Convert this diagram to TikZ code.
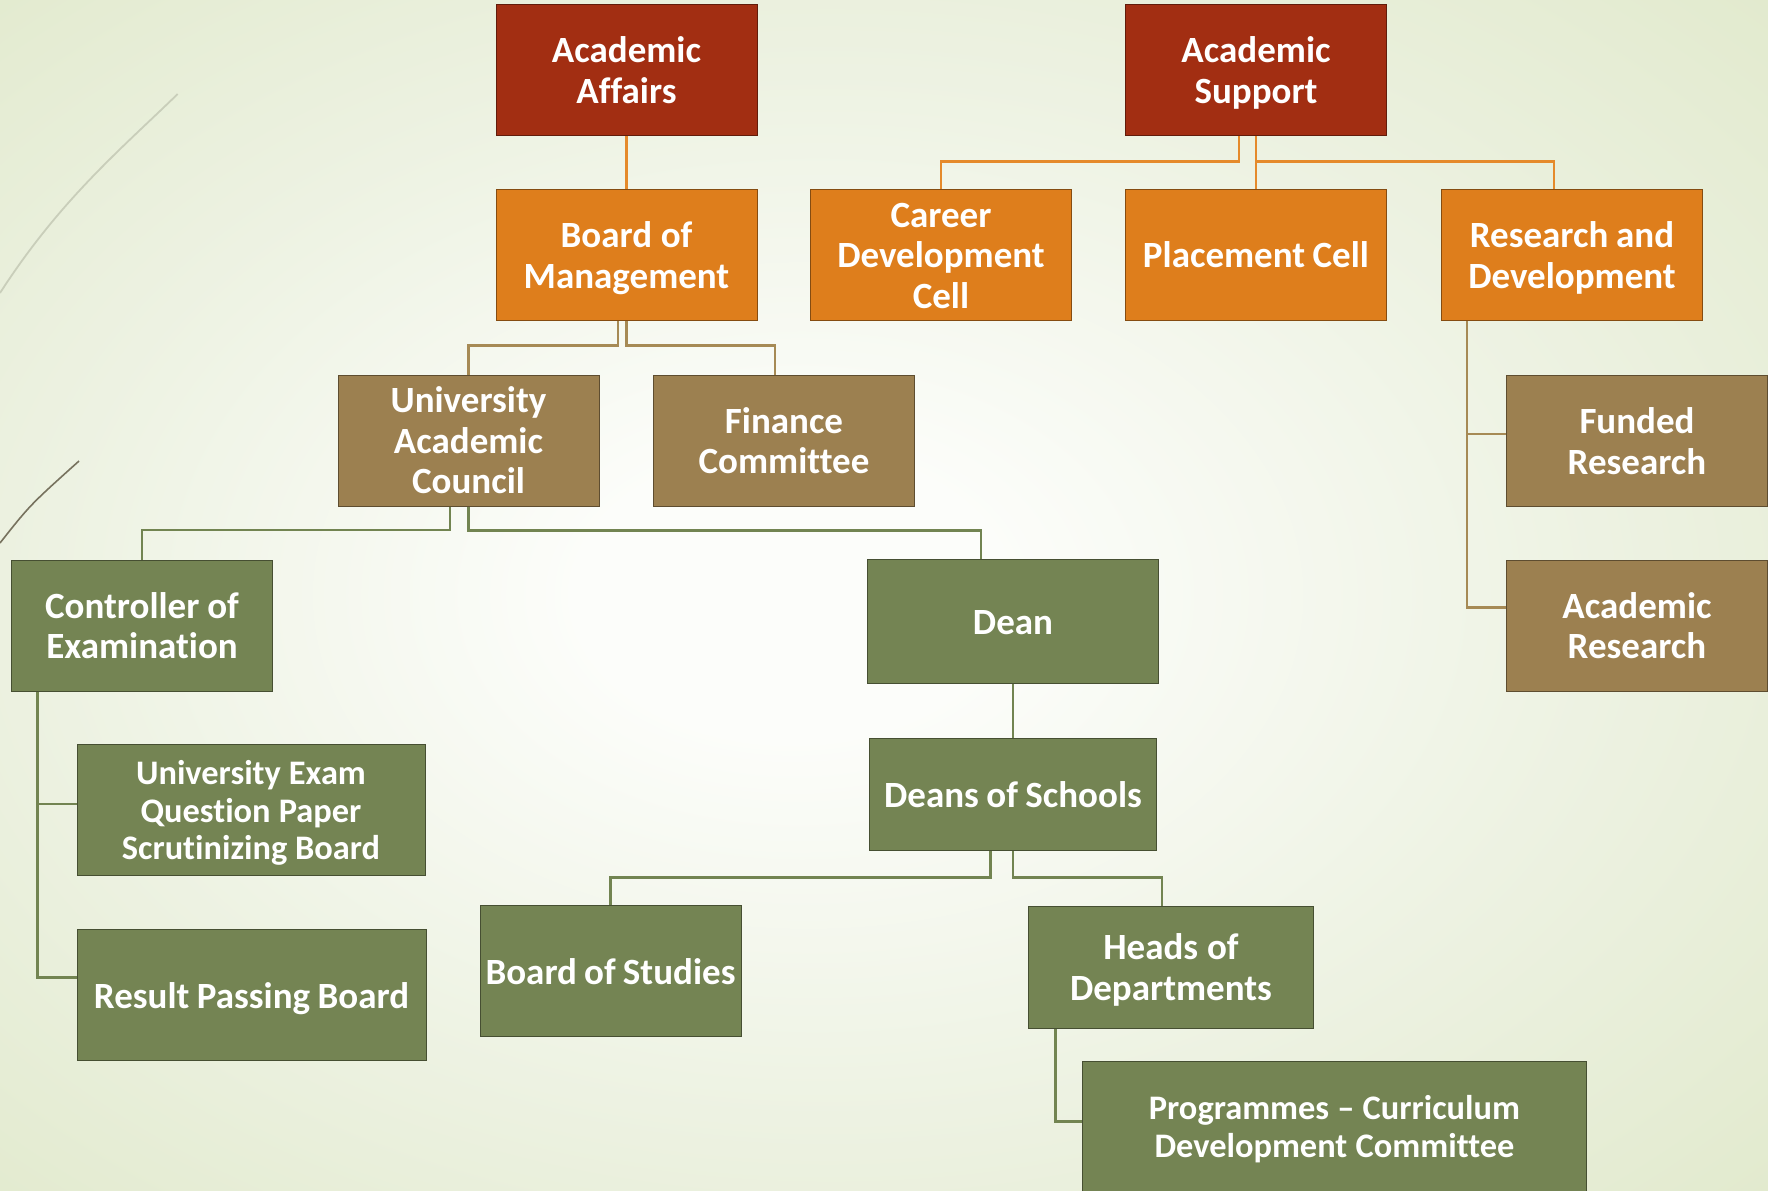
\documentclass[tikz,border=0pt]{standalone}
\usepackage{fontspec}
\setmainfont{Carlito}[Ligatures=NoCommon]
\usepackage{tikz}
\usetikzlibrary{positioning}

\definecolor{affairsred}{HTML}{A22E12}
\definecolor{mgmtorange}{HTML}{DE7E1C}
\definecolor{councilbrown}{HTML}{9C8050}
\definecolor{facultygreen}{HTML}{748453}
\definecolor{orangeline}{HTML}{E58A2B}
\definecolor{brownline}{HTML}{A68A55}
\definecolor{greenline}{HTML}{728451}
\definecolor{swishlight}{HTML}{C9CEBA}
\definecolor{swishdark}{HTML}{77725E}
\definecolor{bgedge}{HTML}{E2EACE}
\definecolor{bgmid}{HTML}{EDF2E2}
\definecolor{bgcentre}{HTML}{FCFDFA}

\pgfdeclareradialshading{slidebg}{\pgfpoint{-3bp}{0bp}}{color(0bp)=(bgcentre); color(6bp)=(bgcentre); color(22bp)=(bgmid); color(36bp)=(bgedge); color(50bp)=(bgedge)}

% same line box for every label, whatever its letters
\newcommand{\topstrut}{\spaceskip=0.19em plus 0.05em minus 0.02em\relax\rule{0pt}{0.946em}}
\newcommand{\bottomstrut}{\rule[-0.254em]{0pt}{0pt}}

\tikzstyle{unit} = [rectangle, inner sep=0pt, align=center, text=white, line width=0.5pt, minimum width=130.5pt, text width=130.5pt, minimum height=65.5pt, font=\bfseries\fontsize{18.5}{20.3}\selectfont, execute at begin node=\topstrut, execute at end node=\bottomstrut]
\tikzstyle{headbox} = [unit, fill=affairsred, draw=affairsred!60!black]
\tikzstyle{mgmtbox} = [unit, fill=mgmtorange, draw=mgmtorange!60!black]
\tikzstyle{councilbox} = [unit, fill=councilbrown, draw=councilbrown!60!black]
\tikzstyle{facultybox} = [unit, fill=facultygreen, draw=facultygreen!60!black]
\tikzstyle{smalltext} = [font=\bfseries\fontsize{17.2}{18.8}\selectfont]
\tikzstyle{link} = [line width=1.3pt]
\tikzset{dims/.style 2 args={minimum width=#1, text width=#1, minimum height=#2}}

\begin{document}
\begin{tikzpicture}[x=0.5pt, y=-0.5pt]

 \shade[shading=slidebg] (0,0) rectangle (1768,1190);
 \useasboundingbox (0,0) rectangle (1768,1190);
 \draw[line width=0.9pt, swishlight] (0,293) .. controls (60,200) and (120,150) .. (177.7,94);
 \draw[line width=0.8pt, swishdark] (0,543) .. controls (30,505) .. (79,461);

 \node (aa) [headbox] at (626.5,70) {Academic\\Affairs};
 \node (as) [headbox] at (1256,70) {Academic\\Support};

 \node (bom) [mgmtbox] at (626.5,255) {Board of\\Management};
 \node (cdc) [mgmtbox] at (941,255) {Career\\Development\\Cell};
 \node (pc) [mgmtbox] at (1256,255) {Placement Cell};
 \node (rd) [mgmtbox] at (1572,255) {Research and\\Development};

 \node (uac) [councilbox] at (468.5,440.5) {University\\Academic\\Council};
 \node (fc) [councilbox] at (784,440.5) {Finance\\Committee};
 \node (fr) [councilbox] at (1637,441) {Funded\\Research};
 \node (ar) [councilbox] at (1637,625.5) {Academic\\Research};

 \node (coe) [facultybox] at (142,625.5) {Controller of\\Examination};
 \node (dean) [facultybox, dims={145.25pt}{62pt}] at (1013,621.5) {Dean};
 \node (ueq) [facultybox, smalltext, dims={174pt}{65.5pt}] at (251,810.4) {University Exam\\Question Paper\\Scrutinizing Board};
 \node (dos) [facultybox, dims={143.75pt}{56.2pt}] at (1013,794.5) {Deans of Schools};
 \node (rpb) [facultybox, dims={174.5pt}{65.5pt}] at (251.5,995.2) {Result Passing Board};
 \node (bos) [facultybox] at (610.5,971.2) {Board of Studies};
 \node (hod) [facultybox, dims={142.85pt}{61.4pt}] at (1171,967.4) {Heads of\\Departments};
 \node (pcdc) [facultybox, smalltext, dims={252pt}{65.5pt}] at (1334.5,1126.5) {Programmes – Curriculum\\Development Committee};

 % top rows
 \draw[link, orangeline] (aa) -- (bom);
 \draw[link, orangeline] ([xshift=-8.5pt]as.south) |- ([yshift=13.9pt]cdc.north) -- (cdc.north);
 \draw[link, orangeline] (as) -- (pc);
 \draw[link, orangeline] (as.south) |- ([xshift=-9pt,yshift=13.9pt]rd.north) -- ([xshift=-9pt]rd.north);
 \draw[link, brownline] ([xshift=-4.25pt]bom.south) |- ([yshift=14.5pt]uac.north) -- (uac.north);
 \draw[link, brownline] (bom.south) |- ([xshift=-4.5pt,yshift=14.5pt]fc.north) -- ([xshift=-4.5pt]fc.north);
 \draw[link, brownline] ([xshift=13pt]rd.south west) |- ([yshift=3.5pt]fr.west);
 \draw[link, brownline] ([xshift=13pt]rd.south west) |- ([yshift=9pt]ar.west);

 % council and below
 \draw[link, greenline] ([xshift=-9.25pt]uac.south) |- ([yshift=14.7pt]coe.north) -- (coe.north);
 \draw[link, greenline] (uac.south) |- ([xshift=-16pt,yshift=14.2pt]dean.north) -- ([xshift=-16pt]dean.north);
 \draw[link, greenline] ([xshift=13.25pt]coe.south west) |- ([yshift=3.3pt]ueq.west);
 \draw[link, greenline] ([xshift=13.25pt]coe.south west) |- ([yshift=8.9pt]rpb.west);
 \draw[link, greenline] (dean) -- (dos);
 \draw[link, greenline] ([xshift=-11.25pt]dos.south) |- ([yshift=14pt]bos.north) -- (bos.north);
 \draw[link, greenline] (dos.south) |- ([xshift=-4.5pt,yshift=14pt]hod.north) -- ([xshift=-4.5pt]hod.north);
 \draw[link, greenline] ([xshift=14pt]hod.south west) |- ([yshift=2.5pt]pcdc.west);

\end{tikzpicture}
\end{document}
